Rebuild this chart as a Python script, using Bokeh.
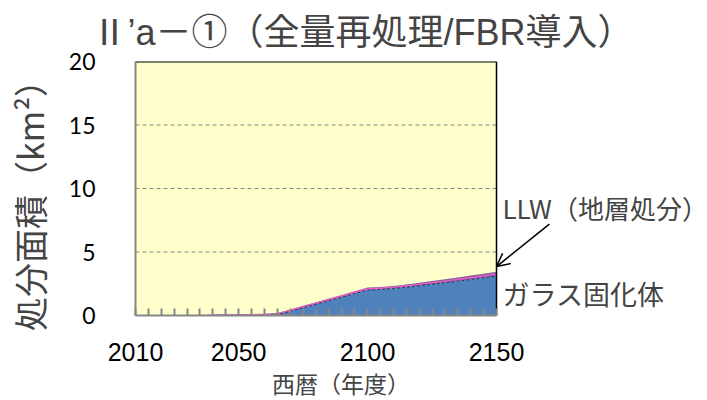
from bokeh.plotting import figure
from bokeh.models import FixedTicker, Label, Arrow, OpenHead, Range1d, ColumnDataSource, BoxAnnotation
from bokeh.embed import file_html
from bokeh.resources import INLINE

# ---- data ----
years = list(range(2010, 2155, 5))
glass = [0, 0, 0, 0, 0, 0,
         0, 0, 0, 0, 0, 0.05,
         0.33, 0.61, 0.89, 1.16, 1.44, 1.72, 2.0,
         2.05, 2.12, 2.22, 2.34, 2.46, 2.58, 2.70, 2.83, 2.96, 3.1]
llw = [0, 0, 0, 0, 0, 0,
       0.08, 0.10, 0.11, 0.12, 0.13, 0.14,
       0.15, 0.15, 0.16, 0.17, 0.18, 0.19, 0.20,
       0.20, 0.21, 0.22, 0.24, 0.25, 0.27, 0.29, 0.31, 0.33, 0.35]
x_tick_years = [2010, 2050, 2100, 2150]
y_ticks = [0, 5, 10, 15, 20]
title_text = "Ⅱ’a－①（全量再処理/FBR導入）"
x_title = "西暦（年度）"
y_title = "処分面積（km²）"
llw_name = "LLW（地層処分）"
glass_name = "ガラス固化体"

total = [g + l for g, l in zip(glass, llw)]
mid = [g + l / 2 for g, l in zip(glass, llw)]
zero = [0] * len(years)
src = ColumnDataSource(dict(x=years, glass=glass, total=total, mid=mid, zero=zero))

CJK = "Noto Sans CJK JP"
CJK_TIGHT = "Liberation Sans, Noto Sans CJK JP"
x0, x1 = years[0], years[-1]
y0, y1 = y_ticks[0], y_ticks[-1]

# frame: plot area 135..496 px, then free space on the right for the notes
px_per_year = 361 / (x1 - x0)
frame_w = 707 - 135
p = figure(width=707, height=400, output_backend="svg", toolbar_location=None,
           x_range=Range1d(x0, x0 + frame_w / px_per_year), y_range=Range1d(y0, y1),
           min_border_left=135, min_border_right=0, min_border_top=61, min_border_bottom=83)

p.background_fill_color = "white"
p.border_fill_color = "white"
p.outline_line_color = None

p.add_layout(BoxAnnotation(left=x0, right=x1, fill_color="#FFFFCC", fill_alpha=1,
                           line_color=None, level="underlay"))

# dashed grid lines inside the plot area
grid_vals = y_ticks[1:-1]
p.segment(x0=[x0] * len(grid_vals), y0=grid_vals, x1=[x1] * len(grid_vals), y1=grid_vals,
          line_color="#868686", line_width=1, line_dash="4 3")

p.varea(x="x", y1="zero", y2="glass", source=src, fill_color="#4F81BD")
p.varea(x="x", y1="glass", y2="total", source=src, fill_color="#8064A2")
p.line(x="x", y="mid", source=src, line_color="#FF55CC", line_width=1.2)
p.line(x="x", y="glass", source=src, line_color="#1F3D66", line_width=1, line_dash="3 2")

# top and right borders of the plot area
p.segment(x0=[x0], y0=[y1], x1=[x1], y1=[y1], line_color="black", line_width=2)
p.segment(x0=[x1], y0=[y0], x1=[x1], y1=[y1], line_color="black", line_width=1.5)

# axes
xa = p.xaxis[0]
xa.bounds = (x0, x1)
xa.ticker = FixedTicker(ticks=x_tick_years, minor_ticks=years)
xa.major_tick_line_color = None
xa.minor_tick_line_color = "#868686"
xa.minor_tick_line_width = 2
xa.minor_tick_in = 7
xa.minor_tick_out = 0
xa.axis_line_color = "#868686"
xa.axis_line_width = 2
xa.major_label_text_font = "Liberation Sans"
xa.major_label_text_font_size = "25px"
xa.major_label_text_color = "black"
xa.major_label_standoff = 21
# trailing ideographic spaces keep the label centred under the plot area, not the wider frame
xa.axis_label = x_title + "\u3000" * 7 + "\u2002"
xa.axis_label_text_font = CJK_TIGHT
xa.axis_label_text_font_size = "23px"
xa.axis_label_text_font_style = "normal"
xa.axis_label_standoff = 8

ya = p.yaxis[0]
ya.ticker = FixedTicker(ticks=y_ticks)
ya.major_tick_line_color = None
ya.minor_tick_line_color = None
ya.axis_line_color = "#868686"
ya.axis_line_width = 2
ya.major_label_text_font = "Lato"
ya.major_label_text_font_size = "23px"
ya.major_label_text_color = "black"
ya.major_label_standoff = 34
ya.axis_label = y_title + "\u3000"
ya.axis_label_text_font = CJK
ya.axis_label_text_font_size = "34px"
ya.axis_label_text_font_style = "normal"
ya.axis_label_standoff = 12

p.xgrid.grid_line_color = None
p.ygrid.grid_line_color = None

# title
p.title.text = title_text
p.title.text_font = CJK_TIGHT
p.title.text_font_size = "36px"
p.title.text_font_style = "normal"
p.title.align = "left"
p.title.vertical_align = "top"
p.title.offset = -44
p.title.standoff = 14

# notes on the right
p.add_layout(Label(x=x1, y=8.5, x_offset=6, text=llw_name, text_font=CJK,
                   text_font_size="26px", text_baseline="middle"))
p.add_layout(Label(x=x1, y=1.75, x_offset=6, text=glass_name, text_font=CJK,
                   text_font_size="27px", text_baseline="middle"))
p.add_layout(Arrow(end=OpenHead(size=13, line_width=1.5, line_color="black"),
                   x_start=x1 + 20.5, y_start=7.2,
                   x_end=x1, y_end=total[-1] + 0.4,
                   line_color="black", line_width=1.5))

open("out.html", "w").write(file_html(p, INLINE))
